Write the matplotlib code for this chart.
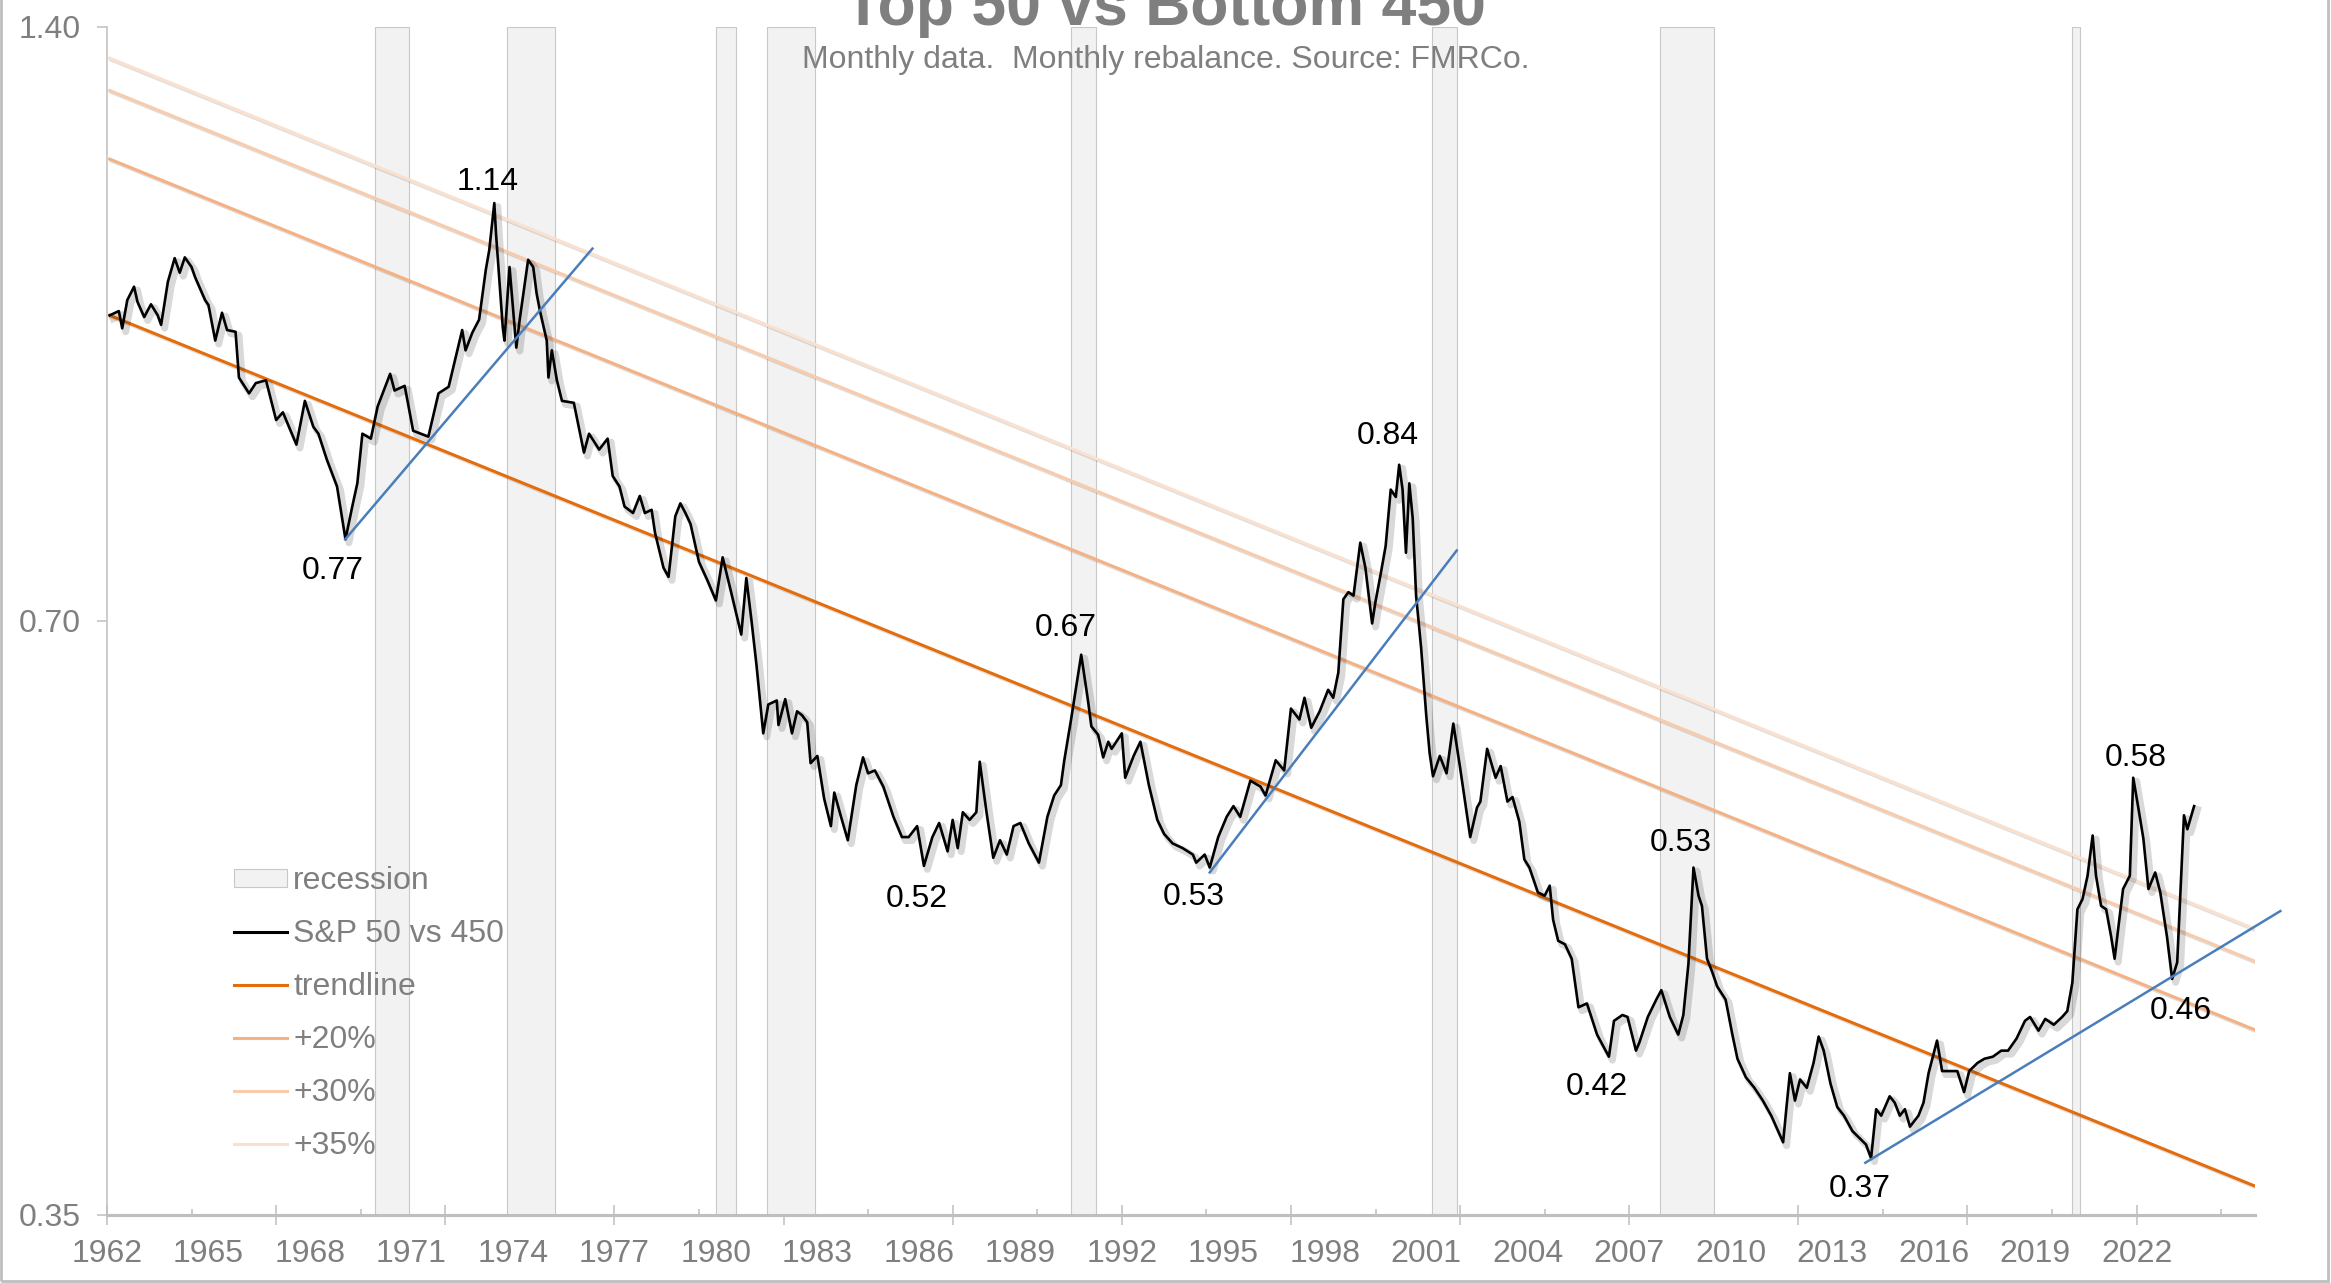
import matplotlib
matplotlib.use("Agg")
import matplotlib.pyplot as plt
import matplotlib.patheffects as pe
from matplotlib.patches import Patch, Rectangle
from matplotlib.lines import Line2D
from matplotlib.ticker import FixedLocator, NullLocator

plt.rcParams["font.family"] = ["Liberation Sans", "DejaVu Sans"]

GRAY = "#7f7f7f"
AXIS_GRAY = "#bfbfbf"

# --- data (year fraction, ratio top 50 / bottom 450) ---
sp_year = [
    1962.08, 1962.35, 1962.45, 1962.6, 1962.8, 1962.9, 1963.1, 1963.3, 1963.5, 1963.6,
    1963.8, 1964.0, 1964.15, 1964.3, 1964.5, 1964.6, 1964.9, 1965.0, 1965.2, 1965.4,
    1965.55, 1965.8, 1965.9, 1966.2, 1966.4, 1966.7, 1967.0, 1967.2, 1967.6, 1967.85,
    1968.1, 1968.25, 1968.5, 1968.8, 1969.05, 1969.25, 1969.4, 1969.55, 1969.8, 1970.0,
    1970.37, 1970.5, 1970.8, 1971.05, 1971.5, 1971.8, 1972.1, 1972.5, 1972.6, 1972.8,
    1973.0, 1973.2, 1973.3, 1973.45, 1973.5, 1973.7, 1973.75, 1973.9, 1974.1, 1974.2,
    1974.45, 1974.6, 1974.7, 1974.8, 1975.0, 1975.05, 1975.15, 1975.3, 1975.45, 1975.8,
    1976.1, 1976.25, 1976.55, 1976.8, 1976.95, 1977.15, 1977.3, 1977.55, 1977.75, 1977.9,
    1978.1, 1978.2, 1978.45, 1978.6, 1978.8, 1978.95, 1979.1, 1979.25, 1979.5, 1979.75,
    1980.0, 1980.2, 1980.45, 1980.75, 1980.9, 1981.05, 1981.2, 1981.4, 1981.55, 1981.8,
    1981.85, 1982.05, 1982.25, 1982.4, 1982.55, 1982.7, 1982.8, 1983.0, 1983.2, 1983.4,
    1983.5, 1983.7, 1983.9, 1984.15, 1984.35, 1984.5, 1984.7, 1984.95, 1985.25, 1985.5,
    1985.7, 1985.95, 1986.15, 1986.4, 1986.6, 1986.85, 1987.0, 1987.15, 1987.3, 1987.5,
    1987.7, 1987.8, 1988.0, 1988.2, 1988.4, 1988.6, 1988.8, 1989.0, 1989.25, 1989.55,
    1989.8, 1990.0, 1990.2, 1990.3, 1990.5, 1990.8, 1991.0, 1991.1, 1991.3, 1991.45,
    1991.6, 1991.7, 1992.0, 1992.1, 1992.35, 1992.55, 1992.8, 1993.05, 1993.25, 1993.5,
    1993.8, 1994.1, 1994.2, 1994.45, 1994.6, 1994.85, 1995.1, 1995.3, 1995.5, 1995.8,
    1996.1, 1996.25, 1996.4, 1996.55, 1996.8, 1997.0, 1997.25, 1997.4, 1997.6, 1997.85,
    1998.1, 1998.25, 1998.4, 1998.55, 1998.7, 1998.85, 1999.05, 1999.2, 1999.4, 1999.5,
    1999.65, 1999.8, 1999.95, 2000.1, 2000.2, 2000.3, 2000.4, 2000.5, 2000.6, 2000.7,
    2000.85, 2001.0, 2001.1, 2001.2, 2001.4, 2001.6, 2001.8, 2002.0, 2002.3, 2002.5,
    2002.6, 2002.8, 2003.05, 2003.2, 2003.4, 2003.55, 2003.75, 2003.9, 2004.05, 2004.3,
    2004.5, 2004.65, 2004.75, 2004.9, 2005.1, 2005.3, 2005.5, 2005.75, 2006.05, 2006.4,
    2006.55, 2006.8, 2006.95, 2007.2, 2007.3, 2007.55, 2007.8, 2007.95, 2008.2, 2008.45,
    2008.6, 2008.75, 2008.9, 2009.05, 2009.15, 2009.3, 2009.45, 2009.6, 2009.85, 2010.05,
    2010.2, 2010.45, 2010.7, 2010.95, 2011.2, 2011.55, 2011.65, 2011.75, 2011.9, 2012.05,
    2012.25, 2012.45, 2012.6, 2012.75, 2012.95, 2013.15, 2013.35, 2013.6, 2013.8, 2014.0,
    2014.15, 2014.3, 2014.45, 2014.7, 2014.85, 2015.0, 2015.15, 2015.3, 2015.55, 2015.7,
    2015.85, 2016.1, 2016.25, 2016.5, 2016.7, 2016.9, 2017.05, 2017.3, 2017.5, 2017.75,
    2018.0, 2018.2, 2018.45, 2018.7, 2018.85, 2019.1, 2019.3, 2019.55, 2019.8, 2019.95,
    2020.1, 2020.25, 2020.4, 2020.55, 2020.7, 2020.8, 2020.95, 2021.1, 2021.25, 2021.35,
    2021.5, 2021.6, 2021.8, 2021.9, 2022.05, 2022.2, 2022.35, 2022.55, 2022.7, 2022.9,
    2023.05, 2023.2, 2023.4, 2023.5, 2023.7,
]
sp_ratio = [
    1.000, 1.005, 0.985, 1.018, 1.034, 1.016, 0.998, 1.013, 1.000, 0.989,
    1.040, 1.069, 1.051, 1.070, 1.058, 1.046, 1.018, 1.012, 0.971, 1.003,
    0.983, 0.981, 0.930, 0.913, 0.924, 0.927, 0.885, 0.893, 0.860, 0.905,
    0.878, 0.871, 0.845, 0.819, 0.770, 0.800, 0.822, 0.871, 0.866, 0.899,
    0.934, 0.916, 0.921, 0.874, 0.868, 0.913, 0.920, 0.983, 0.960, 0.980,
    0.995, 1.055, 1.079, 1.140, 1.100, 0.986, 0.971, 1.058, 0.963, 0.995,
    1.067, 1.058, 1.026, 1.005, 0.971, 0.930, 0.960, 0.927, 0.905, 0.903,
    0.852, 0.871, 0.855, 0.866, 0.829, 0.819, 0.800, 0.794, 0.810, 0.794,
    0.797, 0.776, 0.745, 0.737, 0.791, 0.803, 0.794, 0.784, 0.750, 0.734,
    0.717, 0.754, 0.724, 0.689, 0.736, 0.701, 0.665, 0.614, 0.635, 0.638,
    0.620, 0.639, 0.614, 0.630, 0.627, 0.622, 0.593, 0.598, 0.569, 0.551,
    0.573, 0.557, 0.542, 0.578, 0.597, 0.586, 0.588, 0.577, 0.557, 0.544,
    0.544, 0.551, 0.526, 0.544, 0.553, 0.535, 0.555, 0.537, 0.560, 0.555,
    0.560, 0.594, 0.560, 0.531, 0.542, 0.533, 0.551, 0.553, 0.540, 0.528,
    0.557, 0.571, 0.578, 0.595, 0.624, 0.673, 0.638, 0.619, 0.613, 0.597,
    0.608, 0.603, 0.614, 0.583, 0.598, 0.608, 0.578, 0.555, 0.546, 0.540,
    0.537, 0.533, 0.528, 0.533, 0.525, 0.544, 0.557, 0.564, 0.557, 0.581,
    0.577, 0.571, 0.583, 0.595, 0.588, 0.632, 0.624, 0.640, 0.618, 0.630,
    0.646, 0.640, 0.659, 0.718, 0.724, 0.721, 0.767, 0.745, 0.698, 0.716,
    0.739, 0.764, 0.816, 0.809, 0.840, 0.816, 0.758, 0.822, 0.789, 0.721,
    0.678, 0.627, 0.600, 0.584, 0.598, 0.586, 0.621, 0.590, 0.544, 0.563,
    0.567, 0.603, 0.583, 0.591, 0.567, 0.570, 0.554, 0.530, 0.525, 0.510,
    0.508, 0.514, 0.494, 0.482, 0.480, 0.472, 0.446, 0.448, 0.432, 0.421,
    0.439, 0.442, 0.441, 0.424, 0.428, 0.441, 0.450, 0.455, 0.441, 0.432,
    0.442, 0.469, 0.525, 0.508, 0.502, 0.472, 0.465, 0.457, 0.450, 0.432,
    0.420, 0.411, 0.406, 0.400, 0.393, 0.381, 0.397, 0.413, 0.400, 0.410,
    0.406, 0.418, 0.431, 0.424, 0.408, 0.397, 0.393, 0.386, 0.383, 0.380,
    0.374, 0.396, 0.393, 0.402, 0.399, 0.393, 0.396, 0.388, 0.393, 0.399,
    0.413, 0.429, 0.414, 0.414, 0.414, 0.404, 0.414, 0.418, 0.420, 0.421,
    0.424, 0.424, 0.430, 0.439, 0.441, 0.434, 0.440, 0.437, 0.441, 0.444,
    0.459, 0.500, 0.506, 0.520, 0.545, 0.520, 0.502, 0.500, 0.484, 0.472,
    0.496, 0.512, 0.520, 0.583, 0.563, 0.543, 0.512, 0.522, 0.510, 0.484,
    0.461, 0.470, 0.558, 0.549, 0.564,
]

recession_start = [1969.92, 1973.83, 1980.0, 1981.5, 1990.5, 2001.17, 2007.92, 2020.08]
recession_end = [1970.92, 1975.25, 1980.58, 1982.92, 1991.25, 2001.92, 2009.5, 2020.33]

trend_years = [1962.08, 2025.5]
trend_vals = [1.00, 0.362]
band_names = ["+20%", "+30%", "+35%"]
band_mult = [1.20, 1.30, 1.35]

support_years = [(1969.04, 1976.35), (1994.6, 2001.9), (2013.98, 2026.25)]
support_vals = [(0.770, 1.081), (0.522, 0.760), (0.372, 0.499)]

peak_labels = ["1.14", "0.77", "0.67", "0.52", "0.53", "0.84", "0.42", "0.53", "0.37", "0.58", "0.46"]
peak_years = [1973.45, 1969.05, 1990.8, 1986.15, 1994.6, 2000.2, 2006.4, 2008.9, 2014.15, 2021.9, 2023.05]
peak_vals = [1.140, 0.770, 0.673, 0.526, 0.525, 0.840, 0.421, 0.525, 0.374, 0.583, 0.461]

year_labels = ["1962", "1965", "1968", "1971", "1974", "1977", "1980", "1983", "1986", "1989", "1992",
               "1995", "1998", "2001", "2004", "2007", "2010", "2013", "2016", "2019", "2022"]
y_ticks = [0.35, 0.70, 1.40]

# --- styling ---
trend_color = "#E46C0A"
band_colors = ["#F4B183", "#F8CBAD", "#FAE0CE"]
blue = "#4A7EBB"
FS = 23

fig = plt.figure(figsize=(23.31, 12.83), dpi=100)
ax = fig.add_axes([107 / 2331, 1 - 1215 / 1283, 2148 / 2331, 1188 / 1283])
ax.set_yscale("log")
ax.set_xlim(1962, 2025.5)
ax.set_ylim(0.35, 1.40)

# recession bars
for s, e in zip(recession_start, recession_end):
    ax.axvspan(s, e, facecolor="#f2f2f2", edgecolor="#c8c8c8", lw=0.8, zorder=0.5)

# trendline and bands
shadow = [pe.SimpleLineShadow(offset=(1, -1.2), shadow_color="#000000", alpha=0.12, linewidth=2.6), pe.Normal()]
ax.plot(trend_years, trend_vals, color=trend_color, lw=2.2, zorder=2, path_effects=shadow)
for m, c in zip(band_mult, band_colors):
    ax.plot(trend_years, [v * m for v in trend_vals], color=c, lw=2.2, zorder=2, path_effects=shadow)

# main series with soft shadow
ax.plot(sp_year, sp_ratio, color="black", lw=1.9, zorder=3,
        path_effects=[pe.SimpleLineShadow(offset=(2.5, -2.5), shadow_color="#000000", alpha=0.15, linewidth=5),
                      pe.Normal()])

# support lines
for xs, ys in zip(support_years, support_vals):
    ax.plot(xs, ys, color=blue, lw=1.8, zorder=4, clip_on=False)

# value labels
label_offsets = [(-5, 15.5), (-9, -23), (-11, 19), (-5, -24), (-11.5, -21.5), (-8, 20.5),
                 (-8.5, -21.5), (-9.5, 18), (-8, -22), (1.5, 14.5), (6.5, -23)]
for txt, x, y, off in zip(peak_labels, peak_years, peak_vals, label_offsets):
    ax.annotate(txt, xy=(x, y), xytext=off, textcoords="offset points",
                ha="center", va="center", fontsize=FS, color="black", zorder=5)

# axes styling
for side in ["top", "right"]:
    ax.spines[side].set_visible(False)
ax.spines["left"].set_color(AXIS_GRAY)
ax.spines["left"].set_linewidth(1.1)
ax.spines["bottom"].set_color(AXIS_GRAY)
ax.spines["bottom"].set_linewidth(2.2)

ax.yaxis.set_major_locator(FixedLocator(y_ticks))
ax.yaxis.set_minor_locator(NullLocator())
ax.set_yticklabels(["%.2f" % v for v in y_ticks])
ax.tick_params(axis="y", direction="out", length=7, width=1.1, color=AXIS_GRAY, pad=12,
               labelsize=FS, labelcolor=GRAY)

label_pos = [int(s) for s in year_labels]
ax.set_xticks(label_pos)
ax.set_xticklabels(year_labels)
ax.tick_params(axis="x", length=0, pad=17, labelsize=FS, labelcolor=GRAY)

# tick marks every 5 years (long) and 2.5 years (short)
sec = ax.secondary_xaxis("bottom")
sec.set_xticks([1962 + 5 * i for i in range(13)])
sec.set_xticklabels([])
sec.xaxis.set_minor_locator(FixedLocator([1964.5 + 5 * i for i in range(13)]))
sec.tick_params(which="major", direction="inout", length=13.7, width=1.1, color=AXIS_GRAY)
sec.tick_params(which="minor", direction="in", length=4.3, width=1.1, color=AXIS_GRAY)
sec.spines["bottom"].set_color(AXIS_GRAY)
sec.spines["bottom"].set_linewidth(2.2)

# legend
handles = [
    Patch(facecolor="#f2f2f2", edgecolor="#c8c8c8", lw=0.8),
    Line2D([], [], color="black", lw=2.2),
    Line2D([], [], color=trend_color, lw=2.2),
] + [Line2D([], [], color=c, lw=2.2) for c in band_colors]
labels = ["recession", "S&P 50 vs 450", "trendline"] + band_names
fig.legend(handles, labels, loc="upper left", bbox_to_anchor=(234 / 2331, 1 - 866 / 1283),
           bbox_transform=fig.transFigure, frameon=False, fontsize=FS, labelcolor=GRAY,
           borderpad=0, borderaxespad=0, handlelength=1.65, handleheight=0.5,
           handletextpad=0.2, labelspacing=0.72)

# titles
fig.text(0.5, 1 - 25 / 1283, "Top 50 vs Bottom 450", ha="center", va="baseline",
         fontsize=45, fontweight="bold", color=GRAY)
fig.text(0.5, 1 - 68 / 1283, "Monthly data.  Monthly rebalance. Source: FMRCo.", ha="center",
         va="baseline", fontsize=FS, color=GRAY)

# chart border
fig.add_artist(Rectangle((1 / 2331, 2 / 1283), 1 - 4 / 2331, 1.5, transform=fig.transFigure,
                         fill=False, edgecolor=AXIS_GRAY, lw=2))

fig.savefig("out.png", dpi=100)
